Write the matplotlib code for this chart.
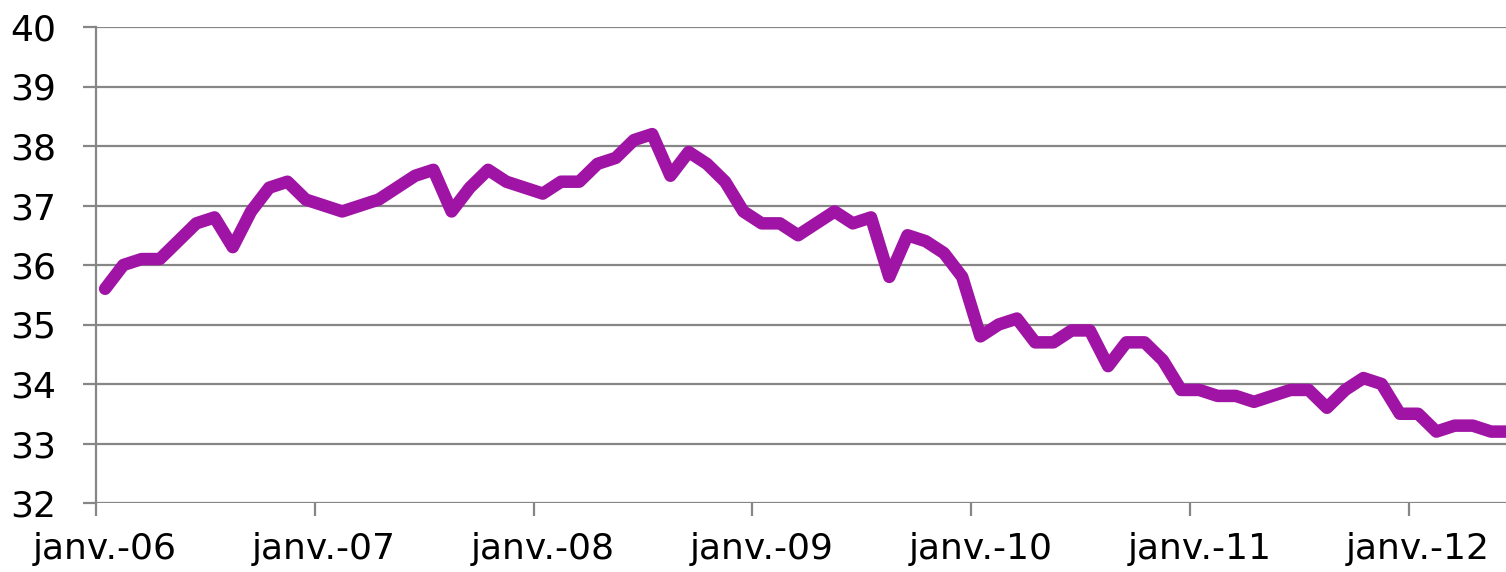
import matplotlib
matplotlib.use('Agg')
import matplotlib.pyplot as plt
import numpy as np

# monthly values, janv.-06 onwards
values = [35.6, 36.0, 36.1, 36.1, 36.4, 36.7, 36.8, 36.3, 36.9, 37.3, 37.4, 37.1,
          37.0, 36.9, 37.0, 37.1, 37.3, 37.5, 37.6, 36.9, 37.3, 37.6, 37.4, 37.3,
          37.2, 37.4, 37.4, 37.7, 37.8, 38.1, 38.2, 37.5, 37.9, 37.7, 37.4, 36.9,
          36.7, 36.7, 36.5, 36.7, 36.9, 36.7, 36.8, 35.8, 36.5, 36.4, 36.2, 35.8,
          34.8, 35.0, 35.1, 34.7, 34.7, 34.9, 34.9, 34.3, 34.7, 34.7, 34.4, 33.9,
          33.9, 33.8, 33.8, 33.7, 33.8, 33.9, 33.9, 33.6, 33.9, 34.1, 34.0, 33.5,
          33.5, 33.2, 33.3, 33.3, 33.2, 33.2]
tick_labels = ['janv.-06', 'janv.-07', 'janv.-08', 'janv.-09',
               'janv.-10', 'janv.-11', 'janv.-12']

GRAY = '#868686'
PURPLE = '#A014A5'

fig = plt.figure(figsize=(15.06, 5.72), dpi=100)
ax = fig.add_axes([96 / 1506, 1 - 503 / 572, 1 - 96 / 1506, (503 - 27) / 572])

months = np.arange(len(values)) + 0.5
ax.plot(months, values, color=PURPLE, lw=9, solid_joinstyle='round',
        solid_capstyle='round', zorder=3)

ax.set_ylim(32, 40)
ax.set_xlim(0, (1506 - 96) / 18.236)
ax.set_yticks(range(32, 41))

# tick marks at year boundaries, labels centred on the january category
year_pos = np.arange(len(tick_labels)) * 12
ax.set_xticks(year_pos + 0.5)
ax.set_xticklabels(tick_labels)
ax.set_xticks(year_pos, minor=True)

ax.yaxis.grid(True, color=GRAY, lw=1.6)
ax.set_axisbelow(True)
for s in ['top', 'right', 'bottom']:
    ax.spines[s].set_visible(False)
ax.spines['left'].set_color(GRAY)
ax.spines['left'].set_linewidth(1.6)

ax.tick_params(axis='y', direction='out', length=9.5, width=1.6, color=GRAY,
               labelsize=26, pad=19)
ax.tick_params(axis='x', which='major', length=0, labelsize=26, pad=21)
ax.tick_params(axis='x', which='minor', direction='out', length=9.5, width=1.6,
               color=GRAY)

fig.savefig('out.png', dpi=100)
